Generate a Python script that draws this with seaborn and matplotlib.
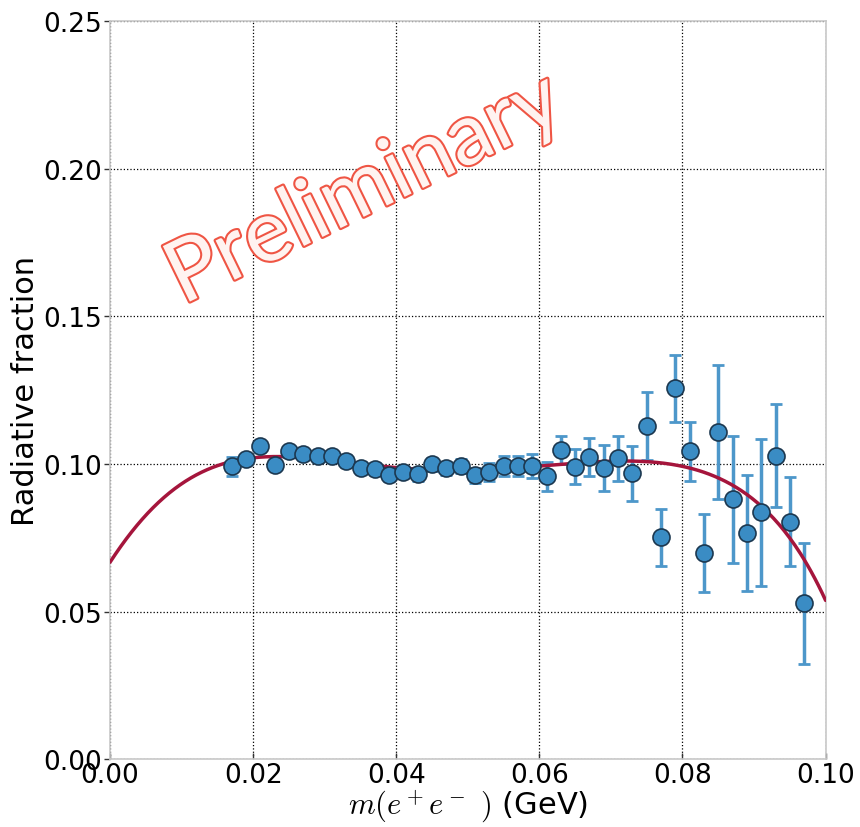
import numpy as np
import pandas as pd
import matplotlib
matplotlib.use("Agg")
import matplotlib.pyplot as plt
import matplotlib.patheffects as pe
import seaborn as sns

# ---- data ----
mass = [0.017, 0.019, 0.021, 0.023, 0.025, 0.027, 0.029, 0.031, 0.033, 0.035,
        0.037, 0.039, 0.041, 0.043, 0.045, 0.047, 0.049, 0.051, 0.053, 0.055,
        0.057, 0.059, 0.061, 0.063, 0.065, 0.067, 0.069, 0.071, 0.073, 0.075,
        0.077, 0.079, 0.081, 0.083, 0.085, 0.087, 0.089, 0.091, 0.093, 0.095,
        0.097]
fraction = [0.0993, 0.1016, 0.1060, 0.0996, 0.1043, 0.1033, 0.1026, 0.1026, 0.1010, 0.0986,
            0.0982, 0.0962, 0.0972, 0.0965, 0.0999, 0.0986, 0.0993, 0.0962, 0.0972, 0.0993,
            0.0993, 0.0993, 0.0958, 0.1048, 0.0991, 0.1025, 0.0985, 0.1019, 0.0969, 0.1129,
            0.0751, 0.1256, 0.1044, 0.0698, 0.1109, 0.0881, 0.0766, 0.0836, 0.1028, 0.0805,
            0.0528]
error = [0.0032, 0.0018, 0.0018, 0.0018, 0.0018, 0.0018, 0.0018, 0.0019, 0.0020, 0.0020,
         0.0020, 0.0020, 0.0020, 0.0021, 0.0022, 0.0022, 0.0023, 0.0025, 0.0030, 0.0035,
         0.0035, 0.0040, 0.0048, 0.0048, 0.0060, 0.0064, 0.0078, 0.0075, 0.0093, 0.0114,
         0.0098, 0.0114, 0.0100, 0.0132, 0.0227, 0.0215, 0.0197, 0.0250, 0.0175, 0.0150,
         0.0205]

# fitted curve, values
curve_x = [0.000, 0.005, 0.010, 0.015, 0.020, 0.025, 0.030, 0.035, 0.040, 0.045, 0.050,
           0.055, 0.060, 0.065, 0.070, 0.075, 0.080, 0.085, 0.090, 0.095, 0.100]
curve_y = [0.0667, 0.0827, 0.0934, 0.0994, 0.1019, 0.1023, 0.1018, 0.1002, 0.0987, 0.0979, 0.0978,
           0.0984, 0.0994, 0.1003, 0.1008, 0.1008, 0.0997, 0.0951, 0.0871, 0.0756, 0.0536]

xticks = [0.00, 0.02, 0.04, 0.06, 0.08, 0.10]
yticks = [0.00, 0.05, 0.10, 0.15, 0.20, 0.25]

df = pd.DataFrame({"mass": mass, "fraction": fraction, "error": error})

# smooth rendering of the read curve
coef = np.polyfit(curve_x, curve_y, 7)
xs = np.linspace(0, 0.1, 400)
curve_df = pd.DataFrame({"mass": xs, "fraction": np.polyval(coef, xs)})

sns.set_theme(style="whitegrid")
plt.rcParams.update({
    "font.family": ["DejaVu Sans"],
    "mathtext.fontset": "cm",
    "grid.color": "black",
    "grid.linestyle": ":",
    "grid.linewidth": 0.9,
    "axes.edgecolor": "#c8c8c8",
    "axes.linewidth": 1.2,
    "xtick.direction": "in",
    "ytick.direction": "out",
    "text.color": "black",
    "axes.labelcolor": "black",
    "xtick.color": "black",
    "ytick.color": "black",
})

fig = plt.figure(figsize=(8.6, 8.28), dpi=100)
ax = fig.add_axes([0.128, 0.082, 0.832, 0.891])

sns.lineplot(data=curve_df, x="mass", y="fraction", ax=ax, color="#a5153c",
             linewidth=2.5, zorder=3)
ax.errorbar(df["mass"], df["fraction"], yerr=df["error"], fmt="none",
            ecolor="#4d97ca", elinewidth=2.5, capsize=4, capthick=2, zorder=2)
sns.scatterplot(data=df, x="mass", y="fraction", ax=ax, s=150, color="#3a8cc4",
                edgecolor="#1c3850", linewidth=1.2, zorder=4)

ax.set_xlim(0, 0.1)
ax.set_ylim(0, 0.25)
ax.set_xticks(xticks)
ax.set_yticks(yticks)
ax.set_xticklabels([f"{t:.2f}" for t in xticks])
ax.set_yticklabels([f"{t:.2f}" for t in yticks])
ax.tick_params(axis="both", labelsize=19, length=4, width=1, color="#333333",
               bottom=True, left=True, pad=2)
ax.grid(True, color="black", linestyle=":", linewidth=0.9)
for s in ax.spines.values():
    s.set_color("#c8c8c8")

ax.set_xlabel(r"$m(e^+e^-\ )$ (GeV)", fontsize=22, labelpad=0)
ax.set_ylabel("Radiative fraction", fontsize=22, labelpad=2)

ax.text(0.0356, 0.193, "Preliminary", fontsize=62, rotation=26,
        family="Lato", fontweight="normal",
        ha="center", va="center", color="#fff3f0", zorder=5,
        path_effects=[pe.withStroke(linewidth=3, foreground="#ef5544")])

fig.savefig("out.png", dpi=100)
